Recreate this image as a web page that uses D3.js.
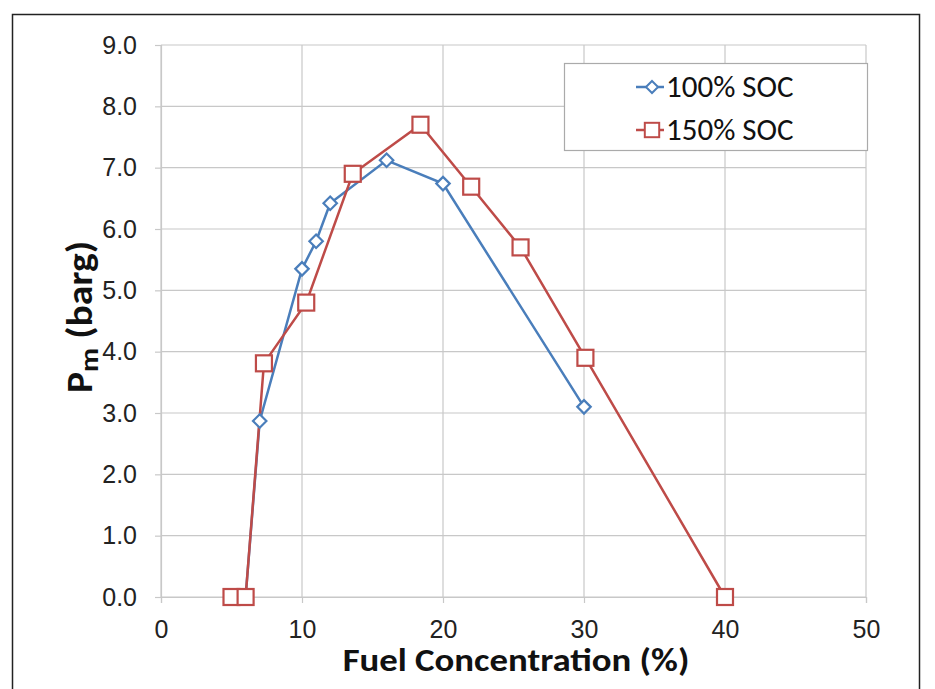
<!DOCTYPE html>
<html lang="en">
<head>
<meta charset="UTF-8">
<title>Pm vs Fuel Concentration</title>
<script src="https://d3js.org/d3.v7.min.js"></script>
<style>
  body { margin: 0; background: #fff; font-family: Carlito, Lato, "Open Sans", sans-serif; }
  .tick text { fill: #222; font-size: 25px; }
  .axis-title { font-weight: bold; fill: #111; }
  .legend text { font-size: 31px; fill: #111; }
</style>
</head>
<body>
<div id="chart"></div>
<script>
const xTicks = [0, 10, 20, 30, 40, 50];
const yTicks = [0, 1, 2, 3, 4, 5, 6, 7, 8, 9];

const soc100X = [5, 6, 7, 10, 11, 12, 16, 20, 30];
const soc100Y = [0, 0, 2.87, 5.35, 5.8, 6.42, 7.12, 6.74, 3.1];

const soc150X = [5, 6, 7.3, 10.3, 13.6, 18.4, 22, 25.5, 30.1, 40];
const soc150Y = [0, 0, 3.81, 4.8, 6.9, 7.7, 6.69, 5.7, 3.9, 0];

const seriesNames = ["100% SOC", "150% SOC"];
const colors = ["#4a7ebb", "#be4b48"];

const W = 935, H = 689;
const margin = { top: 45, right: 69, bottom: 92, left: 161 };
const width = W - margin.left - margin.right;
const height = H - margin.top - margin.bottom;

const svg = d3.select("#chart").append("svg")
  .attr("width", W)
  .attr("height", H);

// outer frame
svg.append("rect")
  .attr("x", 12.5).attr("y", 14.5)
  .attr("width", 907).attr("height", 700)
  .attr("fill", "none").attr("stroke", "#222").attr("stroke-width", 1.5);

const g = svg.append("g").attr("transform", `translate(${margin.left},${margin.top})`);

const x = d3.scaleLinear().domain([0, 50]).range([0, width]);
const y = d3.scaleLinear().domain([0, 9]).range([height, 0]);

// gridlines
g.append("g").selectAll("line").data(yTicks).join("line")
  .attr("x1", 0).attr("x2", width)
  .attr("y1", d => y(d)).attr("y2", d => y(d))
  .attr("stroke", "#c8c8c8").attr("stroke-width", 1.2);
g.append("g").selectAll("line").data(xTicks).join("line")
  .attr("x1", d => x(d)).attr("x2", d => x(d))
  .attr("y1", 0).attr("y2", height)
  .attr("stroke", "#c8c8c8").attr("stroke-width", 1.2);

// axes
const yAxis = g.append("g")
  .call(d3.axisLeft(y).tickValues(yTicks).tickFormat(d3.format(".1f")).tickSize(6).tickPadding(18));
const xAxis = g.append("g")
  .attr("transform", `translate(0,${height})`)
  .call(d3.axisBottom(x).tickValues(xTicks).tickSize(6).tickPadding(17));
[yAxis, xAxis].forEach(a => {
  a.select(".domain").attr("stroke", "#c8c8c8").attr("stroke-width", 1.2);
  a.selectAll(".tick line").attr("stroke", "#c8c8c8").attr("stroke-width", 1.2);
  a.selectAll("text").style("font-family", "inherit");
});

// axis titles
svg.append("text")
  .attr("class", "axis-title")
  .attr("transform", "translate(516,671) scale(1.15,1)")
  .attr("text-anchor", "middle")
  .style("font-size", "32px")
  .text("Fuel Concentration (%)");

const yt = svg.append("text")
  .attr("class", "axis-title")
  .attr("transform", "translate(92,393) rotate(-90) scale(1.1,1)")
  .attr("text-anchor", "start")
  .style("font-size", "36px");
yt.append("tspan").text("P");
yt.append("tspan").attr("dy", 6).style("font-size", "27px").text("m");
yt.append("tspan").attr("dy", -6).text(" (barg)");

const series = [
  soc100X.map((v, i) => ({ x: v, y: soc100Y[i] })),
  soc150X.map((v, i) => ({ x: v, y: soc150Y[i] }))
];

const line = d3.line().x(d => x(d.x)).y(d => y(d.y));
const diamond = d3.symbol().type(d3.symbolDiamond2).size(115);

function marker(sel, idx) {
  if (idx === 0) {
    sel.append("path").attr("d", diamond)
      .attr("fill", "#fff").attr("stroke", colors[0]).attr("stroke-width", 2.2);
  } else {
    sel.append("rect").attr("x", -8).attr("y", -8).attr("width", 16).attr("height", 16)
      .attr("fill", "#fff").attr("stroke", colors[1]).attr("stroke-width", 2.2);
  }
}

series.forEach((data, i) => {
  g.append("path").datum(data)
    .attr("fill", "none").attr("stroke", colors[i]).attr("stroke-width", 2.5)
    .attr("d", line);
});
series.forEach((data, i) => {
  g.append("g").selectAll("g").data(data).join("g")
    .attr("transform", d => `translate(${x(d.x)},${y(d.y)})`)
    .each(function () { marker(d3.select(this), i); });
});

// legend
const lg = svg.append("g").attr("class", "legend");
lg.append("rect")
  .attr("x", 564.5).attr("y", 63.5).attr("width", 303).attr("height", 87)
  .attr("fill", "#fff").attr("stroke", "#aaa").attr("stroke-width", 1.2);
seriesNames.forEach((name, i) => {
  const cy = 87 + i * 43;
  lg.append("line").attr("x1", 636).attr("x2", 664).attr("y1", cy).attr("y2", cy)
    .attr("stroke", colors[i]).attr("stroke-width", 2.5);
  const m = lg.append("g").attr("transform", `translate(652,${cy}) scale(0.9)`);
  marker(m, i);
  lg.append("text").attr("x", 666).attr("y", cy + 10).text(name);
});
</script>
</body>
</html>
